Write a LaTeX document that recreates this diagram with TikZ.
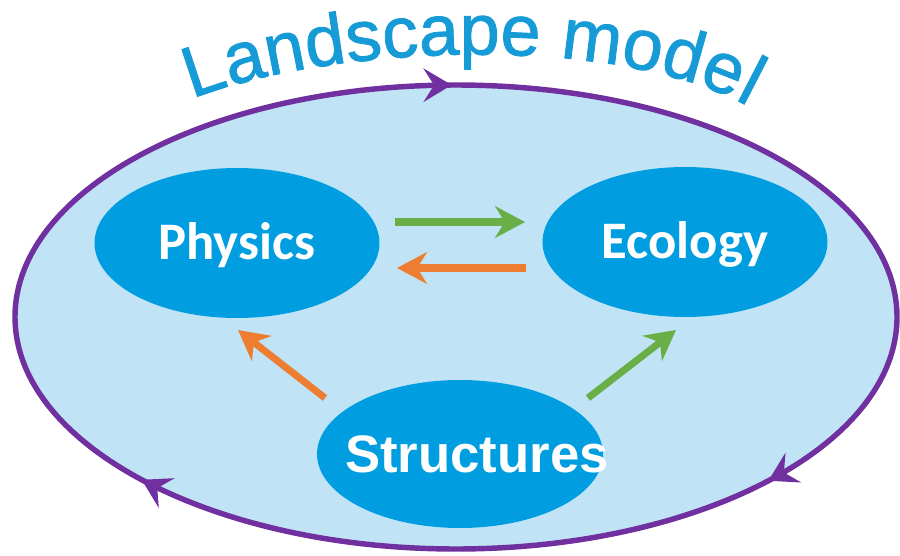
\documentclass[tikz,border=0pt]{standalone}
\usepackage{fontspec}
\setmainfont{Liberation Sans}
\newfontfamily\carlito{Carlito}
\newfontfamily\titlefont[FakeBold=1.2]{Liberation Sans}
\usetikzlibrary{arrows.meta,decorations.markings,decorations.text,shapes.geometric}
\definecolor{skyfill}{RGB}{192,228,246}
\definecolor{blobblue}{RGB}{0,158,224}
\definecolor{titleblue}{RGB}{22,155,215}
\definecolor{loopviolet}{RGB}{112,48,160}
\definecolor{fwdgreen}{RGB}{106,174,72}
\definecolor{backorange}{RGB}{237,125,49}

\begin{document}
\begin{tikzpicture}[x=0.02cm,y=-0.02cm,
    blob/.style={ellipse, fill=blobblue, text=white, inner sep=0pt,
        minimum width=5.7cm, minimum height=3cm, text depth=0pt},
    sideblob/.style={blob, font=\carlito\bfseries\fontsize{30}{31}\selectfont, text height=19.3pt},
    loopline/.style={draw=loopviolet, line width=3.1pt, fill=skyfill},
    looptip/.tip={Stealth[length=16pt, width=19pt, inset=6pt]},
    flow/.style={line width=4pt, -{Stealth[length=17pt, width=18pt, inset=5.5pt]}},
    greenflow/.style={flow, draw=fwdgreen},
    orangeflow/.style={flow, draw=backorange}]

    \useasboundingbox (0,0) rectangle (900,555);

    % landscape loop
    \draw[loopline, postaction={decorate}, decoration={markings,
        mark=at position 0.101 with {\arrow{looptip}},
        mark=at position 0.400 with {\arrow{looptip}},
        mark=at position 0.748 with {\arrow{looptip}}}]
        (456,317) ellipse (441 and 232);

    % the three parts
    \node[sideblob] (phys) at (237,243) {Physics};
    \node[sideblob] (eco) at (685,242) {Ecology};
    \node[blob, minimum width=5.72cm, minimum height=2.96cm] (struct) at (460,454) {};
    \node[text=white, inner sep=0pt, text height=21.5pt, text depth=0pt,
        font=\bfseries\fontsize{30}{32}\selectfont] (structText) at ([xshift=0.34cm]struct.center) {Structures};

    % arrow ends
    \coordinate (physOut) at (395,222); \coordinate (ecoIn) at (525,222);
    \coordinate (ecoOut) at (526,268); \coordinate (physIn) at (397,268);
    \coordinate (structL) at (325,398); \coordinate (physLow) at (238,330);
    \coordinate (structR) at (588,398); \coordinate (ecoLow) at (676,330);

    \draw[greenflow] (physOut) -- (ecoIn);
    \draw[orangeflow] (ecoOut) -- (physIn);
    \draw[orangeflow] (structL) -- (physLow);
    \draw[greenflow] (structR) -- (ecoLow);

    % title on an arc
    \coordinate (arcL) at (166,110);
    \coordinate (arcR) at (772,122);
    \path[decorate, decoration={text along path, text align=center,
        text color=titleblue, text={|\titlefont\fontsize{41}{46}\selectfont|Landscape model}}]
        (arcL) .. controls (310,40) and (650,28) .. (arcR);

\end{tikzpicture}
\end{document}
